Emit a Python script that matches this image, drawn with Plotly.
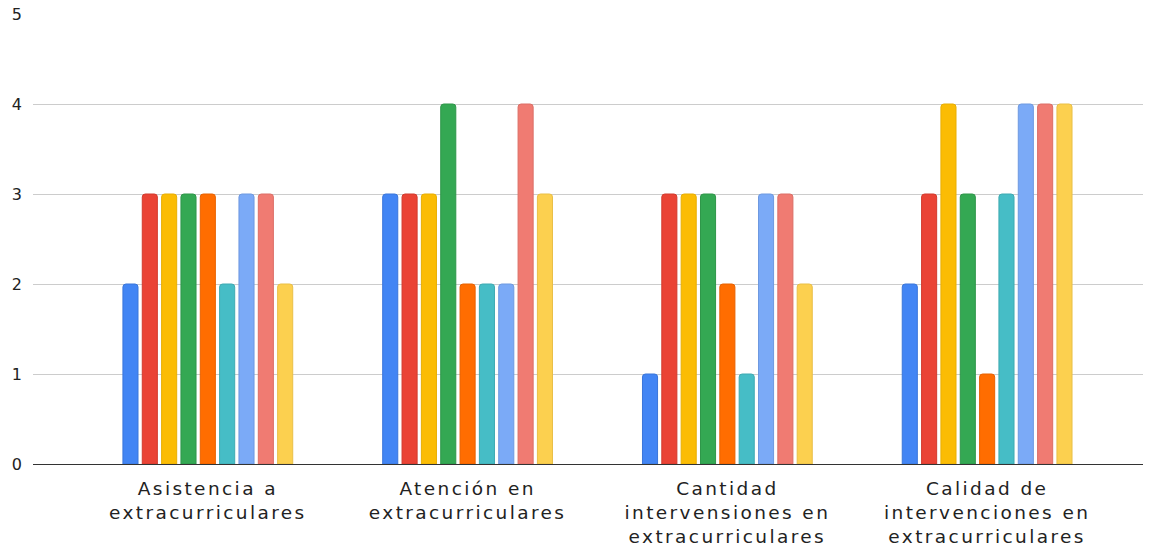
import plotly.graph_objects as go

categories = [
    "Asistencia a<br>extracurriculares",
    "Atención en<br>extracurriculares",
    "Cantidad<br>intervensiones en<br>extracurriculares",
    "Calidad de<br>intervenciones en<br>extracurriculares",
]

series_1 = [2, 3, 1, 2]
series_2 = [3, 3, 3, 3]
series_3 = [3, 3, 3, 4]
series_4 = [3, 4, 3, 3]
series_5 = [3, 2, 2, 1]
series_6 = [2, 2, 1, 3]
series_7 = [3, 2, 3, 4]
series_8 = [3, 4, 3, 4]
series_9 = [2, 3, 2, 4]

series = [series_1, series_2, series_3, series_4, series_5,
          series_6, series_7, series_8, series_9]

colors = ["#4285F4", "#EA4335", "#FBBC04", "#34A853", "#FF6D01",
          "#46BDC6", "#7BAAF7", "#F07B72", "#FCD04F"]
edges = ["#3A76DA", "#D23B2E", "#E8AE03", "#2E9649", "#E86201",
         "#3EAAB2", "#6E99E0", "#DC6E66", "#E9BF47"]


def spaced(label):
    # widen the category labels line by line
    return "<br>".join(
        f'<span style="letter-spacing:2.4px">{line}</span>'
        for line in label.split("<br>")
    )


fig = go.Figure()
for i, (vals, c, e) in enumerate(zip(series, colors, edges)):
    fig.add_trace(go.Bar(
        x=list(range(len(categories))),
        y=vals,
        name=f"Serie {i + 1}",
        marker=dict(color=c, line=dict(color=e, width=1), cornerradius=3),
    ))

fig.update_layout(
    width=1155, height=549,
    margin=dict(l=33, r=12, t=14, b=85),
    paper_bgcolor="white", plot_bgcolor="white",
    showlegend=False,
    barmode="group",
    bargap=0.33,
    bargroupgap=0.22,
    font=dict(family="DejaVu Sans, Arial, sans-serif", color="#222222"),
)
fig.update_xaxes(
    tickmode="array",
    tickvals=list(range(len(categories))),
    ticktext=[spaced(c) for c in categories],
    range=[-0.673, 3.6],
    tickfont=dict(size=18.5, color="#222222"),
    showgrid=False,
    showline=False,
    ticks="",
    automargin=False,
    ticklabelstandoff=11,
)
fig.update_yaxes(
    range=[0, 5],
    dtick=1,
    tickfont=dict(size=16, color="#222222"),
    showgrid=True, gridcolor="#CCCCCC", gridwidth=1,
    zeroline=True, zerolinecolor="#333333", zerolinewidth=1,
    ticks="",
    automargin=False,
    ticklabelstandoff=10,
)

fig.write_html("out.html")
